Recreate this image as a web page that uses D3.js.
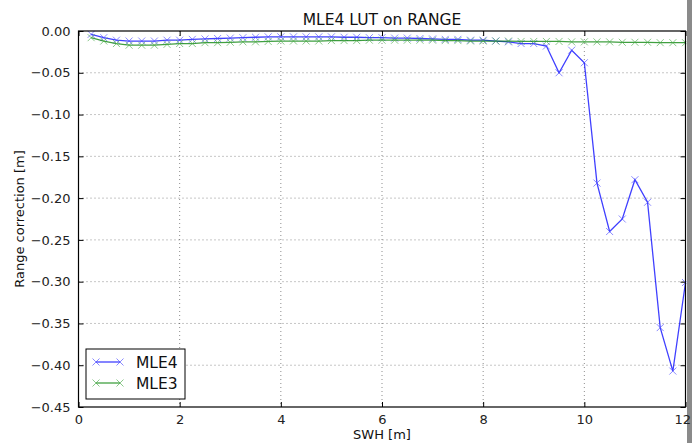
<!DOCTYPE html>
<html><head><meta charset="utf-8">
<script src="https://cdn.jsdelivr.net/npm/d3@7"></script>
<style>body{margin:0;background:#fff}svg{display:block;font-family:"DejaVu Sans",sans-serif}</style>
</head><body><svg id="c" width="692" height="443"></svg>
<script>
const swh = [0.25,0.5,0.75,1,1.25,1.5,1.75,2,2.25,2.5,2.75,3,3.25,3.5,3.75,4,4.25,4.5,4.75,5,5.25,5.5,5.75,6,6.25,6.5,6.75,7,7.25,7.5,7.75,8,8.25,8.5,8.75,9,9.25,9.5,9.75,10,10.25,10.5,10.75,11,11.25,11.5,11.75,12];
const mle4 = [-0.004,-0.008,-0.011,-0.012,-0.012,-0.012,-0.011,-0.011,-0.010,-0.0095,-0.009,-0.0085,-0.008,-0.0075,-0.007,-0.007,-0.007,-0.007,-0.007,-0.007,-0.0075,-0.0075,-0.008,-0.008,-0.0085,-0.0085,-0.009,-0.0095,-0.010,-0.010,-0.011,-0.011,-0.012,-0.013,-0.015,-0.015,-0.018,-0.050,-0.023,-0.038,-0.182,-0.240,-0.225,-0.178,-0.205,-0.355,-0.407,-0.301];
const mle3 = [-0.008,-0.012,-0.015,-0.017,-0.017,-0.017,-0.016,-0.015,-0.015,-0.014,-0.014,-0.0135,-0.013,-0.013,-0.0125,-0.012,-0.012,-0.012,-0.012,-0.0115,-0.0115,-0.0115,-0.011,-0.011,-0.011,-0.011,-0.011,-0.011,-0.0115,-0.0115,-0.012,-0.012,-0.012,-0.012,-0.0125,-0.0125,-0.0125,-0.0125,-0.013,-0.013,-0.013,-0.013,-0.0135,-0.0135,-0.0135,-0.014,-0.014,-0.014];
const xTicks = [0,2,4,6,8,10,12];
const yTicks = [0,-0.05,-0.10,-0.15,-0.20,-0.25,-0.30,-0.35,-0.40,-0.45];
const series = [{name:"MLE4", values:mle4, line:"#0000ff", marker:"#4d4dff"},
                {name:"MLE3", values:mle3, line:"#008000", marker:"#4dab4d"}];

const svg = d3.select("#c");
const L=78.5, R=685.5, T=31, B=407;
const x = d3.scaleLinear().domain([0,12]).range([L,R]);
const y = d3.scaleLinear().domain([-0.45,0]).range([B,T]);
const fmt = d => d3.format(".2f")(d).replace("-","\u2212");

// gray strip at far right
svg.append("rect").attr("x",687).attr("y",0).attr("width",5).attr("height",443).attr("fill","#8a8a8a");

// grid
const g = svg.append("g");
g.selectAll(".gx").data(xTicks.slice(1,-1)).join("line").attr("x1",d=>x(d)).attr("x2",d=>x(d)).attr("y1",T).attr("y2",B)
 .attr("stroke","#000").attr("stroke-opacity",0.45).attr("stroke-dasharray","1,3");
g.selectAll(".gy").data(yTicks.slice(1,-1)).join("line").attr("y1",d=>y(d)).attr("y2",d=>y(d)).attr("x1",L).attr("x2",R)
 .attr("stroke","#000").attr("stroke-opacity",0.45).attr("stroke-dasharray","1,3");

// axes (ticks inward)
const axB = d3.axisBottom(x).tickValues(xTicks).tickSize(-5).tickPadding(8).tickFormat(d3.format("d"));
const axT = d3.axisTop(x).tickValues(xTicks).tickSize(-5).tickFormat("");
const axLft = d3.axisLeft(y).tickValues(yTicks).tickSize(-5).tickPadding(8).tickFormat(fmt);
const axRt = d3.axisRight(y).tickValues(yTicks).tickSize(-5).tickFormat("");
function style(sel){sel.select(".domain").remove();sel.selectAll("line").attr("stroke","#000");sel.selectAll("text").attr("font-size",13).attr("fill","#222").attr("font-family","DejaVu Sans");}
const bx = svg.append("g").attr("transform",`translate(0,${B})`).call(axB).call(style);
bx.selectAll("text").filter(d=>d===12).attr("text-anchor","end").attr("dx",5);
svg.append("g").attr("transform",`translate(0,${T})`).call(axT).call(style);
svg.append("g").attr("transform",`translate(${L},0)`).call(axLft).call(style);
svg.append("g").attr("transform",`translate(${R},0)`).call(axRt).call(style);

// clip
svg.append("clipPath").attr("id","cp").append("rect").attr("x",L).attr("y",T-6).attr("width",R-L+1).attr("height",B-T+6);
const plot = svg.append("g").attr("clip-path","url(#cp)");
const line = d3.line().x((d,i)=>x(swh[i])).y(d=>y(d));
function xmark(sel, col){
  sel.append("path").attr("d",(d,i)=>{const cx=x(swh[i]),cy=y(d),s=3.5;return `M${cx-s},${cy-s}L${cx+s},${cy+s}M${cx-s},${cy+s}L${cx+s},${cy-s}`;})
   .attr("stroke",col).attr("stroke-opacity",0.65).attr("stroke-width",1).attr("fill","none");
}
series.forEach(s=>{
  plot.append("path").datum(s.values).attr("d",line).attr("fill","none").attr("stroke",s.line).attr("stroke-opacity",0.75).attr("stroke-width",1.3);
  plot.append("g").selectAll("g").data(s.values).join("g").call(xmark, s.marker);
});

// frame
svg.append("rect").attr("x",L).attr("y",T).attr("width",R-L).attr("height",B-T).attr("fill","none").attr("stroke","#000").attr("stroke-width",1.2);

// title and labels
svg.append("text").attr("x",(L+R)/2).attr("y",25).attr("text-anchor","middle").attr("font-size",15.5).attr("fill","#111").text("MLE4 LUT on RANGE");
svg.append("text").attr("transform",`translate(24,${(T+B)/2}) rotate(-90)`).attr("text-anchor","middle").attr("font-size",13).attr("fill","#111").text("Range correction [m]");
svg.append("text").attr("x",(L+R)/2).attr("y",439).attr("text-anchor","middle").attr("font-size",13).attr("fill","#111").text("SWH [m]");

// legend
const lg = svg.append("g");
lg.append("rect").attr("x",86).attr("y",349).attr("width",99).attr("height",50).attr("fill","#fff").attr("stroke","#000").attr("stroke-width",1);
series.forEach((s,i)=>{
  const yy = 362 + i*21;
  lg.append("line").attr("x1",96).attr("x2",120).attr("y1",yy).attr("y2",yy).attr("stroke",s.line).attr("stroke-opacity",0.75).attr("stroke-width",1.3);
  [96,120].forEach(cx=>lg.append("path").attr("d",`M${cx-3.5},${yy-3.5}L${cx+3.5},${yy+3.5}M${cx-3.5},${yy+3.5}L${cx+3.5},${yy-3.5}`).attr("stroke",s.marker).attr("stroke-opacity",0.65).attr("fill","none"));
  lg.append("text").attr("x",136).attr("y",yy+5.5).attr("font-size",15.5).attr("fill","#111").text(s.name);
});
</script></body></html>
